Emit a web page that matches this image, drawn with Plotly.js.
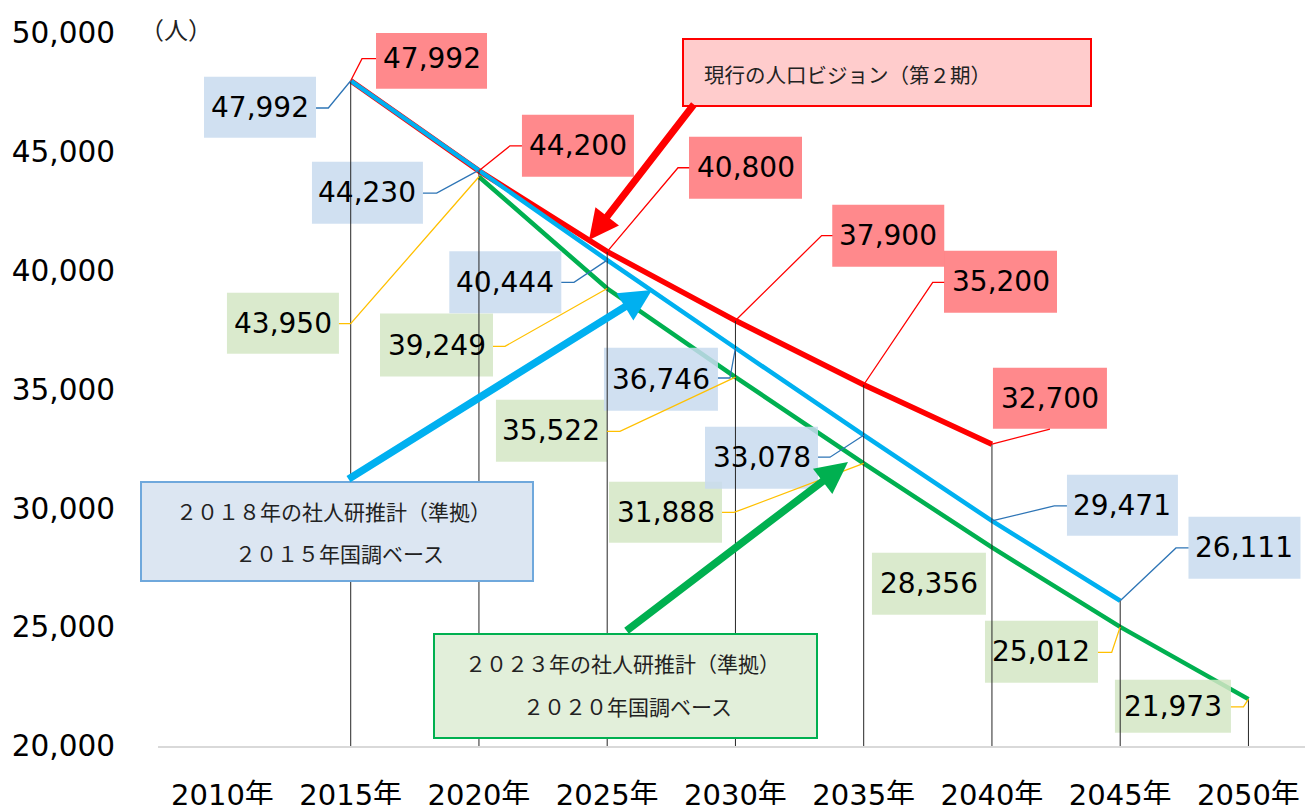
<!DOCTYPE html>
<html><head><meta charset="utf-8">
<script src="https://cdn.plot.ly/plotly-3.0.1.min.js"></script>
<style>html,body{margin:0;padding:0;background:#fff}#chart{width:1305px;height:805px}</style>
</head><body><div id="chart"></div>
<script>
// ---------- data ----------
const years = ['2010年','2015年','2020年','2025年','2030年','2035年','2040年','2045年','2050年'];
const vision   = [null, 47992, 44200, 40800, 37900, 35200, 32700, null, null];
const ipss2018 = [null, 47992, 44230, 40444, 36746, 33078, 29471, 26111, null];
const ipss2023 = [null, null, 43950, 39249, 35522, 31888, 28356, 25012, 21973];
const yTicks = [20000, 25000, 30000, 35000, 40000, 45000, 50000];
const unitLabel = '（人）';
const visionName = '現行の人口ビジョン（第２期）';
const ipss2018Lines = ['２０１８年の社人研推計（準拠）', '２０１５年国調ベース'];
const ipss2023Lines = ['２０２３年の社人研推計（準拠）', '２０２０年国調ベース'];

// ---------- geometry / styles ----------
const W = 1305, H = 805, M = {l: 158, r: 0, t: 33, b: 59};
const plotW = W - M.l - M.r, plotH = H - M.t - M.b;
const px2x = p => (p - M.l) / plotW;
const px2y = p => (H - M.b - p) / plotH;
const xIdx = years.map((_, i) => i);
const NUMFONT = 'DejaVu Sans, Noto Sans CJK JP';
const JPFONT = 'Noto Sans CJK JP, Noto Sans';

// label placement per point: [dx, dy, w, h, leader points (screen px, relative to point)]
const visionLab = {
  1: [80.8, -22.5, 111, 61, [[11.3, -22], [25.3, -22]]],
  2: [99, -25.1, 112, 62, [[31, -25], [43, -25]]],
  3: [138.3, -83.9, 113, 62, [[70.8, -83.9], [82, -83.9]]],
  4: [152.8, -84.9, 112, 62, [[86.2, -85], [97, -85]]],
  5: [136.8, -103, 113, 62, [[69, -102.3], [80.5, -102.3]]],
  6: [58, -46, 114, 61, [[58, -15]]]
};
const ipss2018Lab = {
  1: [-90.7, 26.5, 112, 61, [[-22.4, 27.3], [-34.7, 27.3]]],
  2: [-111.5, 22.6, 111, 62, [[-42.3, 22.9], [-56, 22.9]]],
  3: [-101.9, 22.1, 112, 62, [[-33.2, 22.3], [-45.9, 22.3]]],
  4: [-74.5, 31.2, 114, 63, [[-5.5, 30], [-17.5, 30]]],
  5: [-102.2, 22.5, 113, 62, [[-33.7, 22], [-45.7, 22]]],
  6: [130.5, -15.7, 111, 61, [[62.3, -15], [75, -15]]],
  7: [124.3, -53.1, 112, 62, [[55.8, -52.8], [68.3, -52.8]]]
};
const ipss2023Lab = {
  2: [-196, 146.4, 112, 61, [[-128.3, 146.9], [-140, 146.9]]],
  3: [-170.7, 56.6, 113, 63, [[-102.2, 57.8], [-114.2, 57.8]]],
  4: [-184, 53.6, 111, 62, [[-115.5, 54.3], [-128.5, 54.3]]],
  5: [-198.2, 48.7, 113, 61, [[-129.7, 49], [-141.7, 49]]],
  6: [-63, 36.3, 114, 62, null],
  7: [-78.7, 24.8, 113, 62, [[-8.5, 25.5], [-22.2, 25.5]]],
  8: [-75.5, 7.1, 116, 53, [[-5, 7.7], [-17.5, 7.7]]]
};

const series = [
  {vals: vision, color: '#FF0000', width: 5.5, fill: 'rgba(255,124,128,0.9)', lead: '#FF0000', lab: visionLab, name: visionName},
  {vals: ipss2023, color: '#00B050', width: 4.5, fill: 'rgba(211,230,196,0.85)', lead: '#FFC000', lab: ipss2023Lab, name: ipss2023Lines.join(' ')},
  {vals: ipss2018, color: '#00B0F0', width: 4.5, fill: 'rgba(200,219,238,0.85)', lead: '#2E75B6', lab: ipss2018Lab, name: ipss2018Lines.join(' ')}
];

const traces = series.map(s => ({
  type: 'scatter', mode: 'lines', x: xIdx, y: s.vals, name: s.name,
  line: {color: s.color, width: s.width}, connectgaps: false, hoverinfo: 'skip'
}));

const shapes = [];
const annotations = [];

// label boxes
series.forEach(s => {
  s.vals.forEach((v, i) => {
    const L = s.lab[i];
    if (v == null || !L) return;
    const [dx, dy, w, h] = L;
    shapes.push({type: 'rect', xref: 'x', yref: 'y', xsizemode: 'pixel', ysizemode: 'pixel',
      xanchor: i, yanchor: v, x0: dx - w / 2, x1: dx + w / 2, y0: -dy - h / 2, y1: -dy + h / 2,
      fillcolor: s.fill, line: {width: 0}, layer: 'above'});
  });
});

// drop lines from the highest value of each year to the axis
xIdx.forEach(i => {
  const vs = series.map(s => s.vals[i]).filter(v => v != null);
  if (!vs.length) return;
  shapes.push({type: 'line', xref: 'x', yref: 'y', x0: i, x1: i, y0: yTicks[0], y1: Math.max(...vs),
    line: {color: '#262626', width: 1}, layer: 'above'});
});

// leader lines + label texts
series.forEach(s => {
  s.vals.forEach((v, i) => {
    const L = s.lab[i];
    if (v == null || !L) return;
    const [dx, dy, w, h, pts] = L;
    if (pts) {
      const path = 'M0,0' + pts.map(p => 'L' + p[0] + ',' + (-p[1])).join('');
      shapes.push({type: 'path', xref: 'x', yref: 'y', xsizemode: 'pixel', ysizemode: 'pixel',
        xanchor: i, yanchor: v, path: path, line: {color: s.lead, width: 1.3}, layer: 'above'});
    }
    annotations.push({xref: 'x', yref: 'y', x: i, y: v, xshift: dx, yshift: -dy,
      xanchor: 'center', yanchor: 'middle', showarrow: false,
      text: v.toLocaleString('en-US'), font: {family: NUMFONT, size: 28, color: '#000'}});
  });
});

// callout boxes
function box(x0, y0, x1, y1, fill, border, bw) {
  shapes.push({type: 'rect', xref: 'paper', yref: 'paper', x0: px2x(x0), x1: px2x(x1),
    y0: px2y(y1), y1: px2y(y0), fillcolor: fill, line: {color: border, width: bw}, layer: 'above'});
}
function txt(t, x, y, anchor, size) {
  annotations.push({xref: 'paper', yref: 'paper', x: px2x(x), y: px2y(y), xanchor: anchor, yanchor: 'middle',
    showarrow: false, text: t, font: {family: JPFONT, size: size, color: '#222'}});
}
function arrow(hx, hy, tx, ty, color, width, size) {
  annotations.push({xref: 'paper', yref: 'paper', x: px2x(hx), y: px2y(hy), ax: tx - hx, ay: ty - hy,
    text: '', showarrow: true, arrowhead: 2, arrowsize: size, arrowwidth: width, arrowcolor: color, standoff: 0, startstandoff: 0});
}

box(683, 39, 1091, 106, '#FFCCCC', '#FF0000', 2);
txt(visionName, 702, 74, 'left', 20.5);
box(141, 482, 533, 581, '#DCE6F2', '#6FA8DC', 2);
txt(ipss2018Lines[0], 333, 511, 'center', 21);
txt(ipss2018Lines[1], 339, 553, 'center', 21);
box(434, 634, 817, 738, '#E2EFDA', '#00B050', 2);
txt(ipss2023Lines[0], 622, 663, 'center', 21);
txt(ipss2023Lines[1], 627, 706, 'center', 21);

arrow(589, 240, 695, 103, '#FF0000', 7, 0.85);
arrow(652, 290, 347, 480, '#00B0F0', 7.5, 0.85);
arrow(848, 462, 625, 632, '#00B050', 7.5, 0.85);

txt(unitLabel, 176, 28, 'center', 24);

const layout = {
  width: W, height: H, margin: M, showlegend: false,
  paper_bgcolor: '#fff', plot_bgcolor: '#fff',
  xaxis: {type: 'linear', range: [-0.5026, 8.441], tickvals: xIdx, ticktext: years,
    showgrid: false, zeroline: false, showline: true, linecolor: '#D9D9D9', linewidth: 2,
    ticks: '', ticklabelstandoff: 22, tickfont: {family: NUMFONT, size: 29, color: '#000'}},
  yaxis: {range: [yTicks[0], yTicks[yTicks.length - 1]], tickvals: yTicks, tickformat: ',',
    showgrid: false, zeroline: false, showline: false, ticks: '', ticklabelstandoff: 42,
    tickfont: {family: NUMFONT, size: 29.5, color: '#000'}},
  shapes: shapes, annotations: annotations
};

Plotly.newPlot('chart', traces, layout, {displayModeBar: false, staticPlot: true});
</script>
</body></html>
